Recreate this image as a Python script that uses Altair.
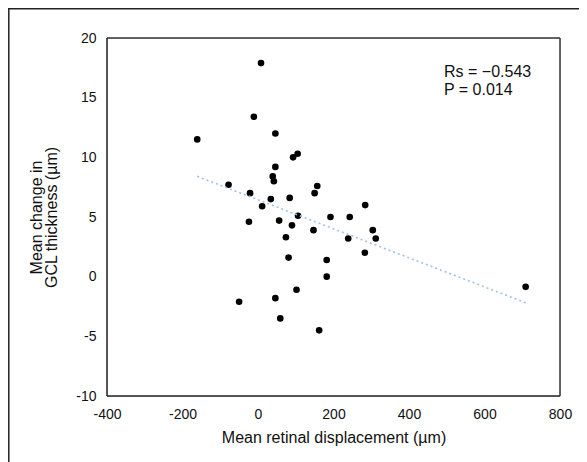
import altair as alt
import pandas as pd

# Mean retinal displacement (µm)
disp = [-161, 8, -11, 46, -78, -21, 11, 34, 46, 39, 42, 84, 93, 105,
        -24, 56, 90, 106, 74, 81, 102, -50, 46, 59, 157, 150, 284, 192,
        243, 147, 304, 312, 239, 283, 182, 182, 162, 709]
# Mean change in GCL thickness (µm)
gcl = [11.5, 17.9, 13.4, 12.0, 7.7, 7.0, 5.9, 6.5, 9.2, 8.4, 8.0, 6.6, 10.0, 10.3,
       4.6, 4.7, 4.3, 5.1, 3.3, 1.6, -1.1, -2.1, -1.8, -3.5, 7.6, 7.0, 6.0, 5.0,
       5.0, 3.9, 3.9, 3.2, 3.2, 2.0, 1.4, 0.0, -4.5, -0.85]

x_ticks = [-400, -200, 0, 200, 400, 600, 800]
y_ticks = [-10, -5, 0, 5, 10, 15, 20]
annotation = ["Rs = \u22120.543", "P = 0.014"]

df = pd.DataFrame({"disp": disp, "gcl": gcl})

FONT = "Liberation Sans"
XMIN, XMAX = x_ticks[0], x_ticks[-1]
YMIN, YMAX = y_ticks[0], y_ticks[-1]

xscale = alt.Scale(domain=[XMIN, XMAX], nice=False, zero=False)
yscale = alt.Scale(domain=[YMIN, YMAX], nice=False, zero=False)

axis_common = dict(grid=False, ticks=False, tickSize=0, domain=False,
                   labelFlush=False, labelOverlap=False,
                   labelFontSize=14, titleFontSize=16,
                   labelFont=FONT, titleFont=FONT, titleFontWeight="normal",
                   labelColor="#111111", titleColor="#111111",
                   labelExpr="'' + datum.value")

xenc = alt.X("disp:Q", scale=xscale,
             axis=alt.Axis(values=x_ticks, title="Mean retinal displacement (\u00b5m)",
                           labelPadding=11, titlePadding=8, **axis_common))
yenc = alt.Y("gcl:Q", scale=yscale,
             axis=alt.Axis(values=y_ticks, title=["Mean change in", "GCL thickness (\u00b5m)"],
                           labelPadding=11, titlePadding=16, titleLineHeight=15,
                           **axis_common))

base = alt.Chart(df)

points = base.mark_circle(color="#000000", opacity=1, size=44).encode(x=xenc, y=yenc)

trend = base.transform_regression("disp", "gcl").mark_line(
    color="#9dc3e6", strokeDash=[2, 3], strokeWidth=1.6
).encode(x=xenc, y=yenc)

ann = alt.Chart(pd.DataFrame({"t": ["\n".join(annotation)]})).mark_text(
    align="left", baseline="top", font=FONT, fontSize=16, lineHeight=18, color="#111111",
    lineBreak="\n"
).encode(text="t:N", x=alt.value(337), y=alt.value(26))

one = pd.DataFrame({"a": [0]})


def hline(yv, color):
    return alt.Chart(one).mark_rule(color=color, strokeWidth=1.5).encode(
        y=alt.datum(yv, type="quantitative"),
        x=alt.datum(XMIN, type="quantitative"), x2=alt.datum(XMAX))


def vline(xv, color):
    return alt.Chart(one).mark_rule(color=color, strokeWidth=1.5).encode(
        x=alt.datum(xv, type="quantitative"),
        y=alt.datum(YMIN, type="quantitative"), y2=alt.datum(YMAX))


border = [hline(YMAX, "#333333"), hline(YMIN, "#222222"),
          vline(XMIN, "#222222"), vline(XMAX, "#333333")]

frame = [
    alt.Chart(one).mark_rule(color="#222222", strokeWidth=1.5).encode(
        x=alt.value(-98.2), y=alt.value(-31), y2=alt.value(500)),
    alt.Chart(one).mark_rule(color="#222222", strokeWidth=1.5).encode(
        y=alt.value(-29.2), x=alt.value(-100), x2=alt.value(600)),
]

chart = alt.layer(points, trend, ann, *border, *frame).properties(
    width=453, height=358,
    autosize=alt.AutoSizeParams(type="none"),
    padding={"left": 99, "top": 30, "right": 19, "bottom": 66},
    background="white",
)

chart.save("out.html", embed_options={"renderer": "svg", "actions": False})
